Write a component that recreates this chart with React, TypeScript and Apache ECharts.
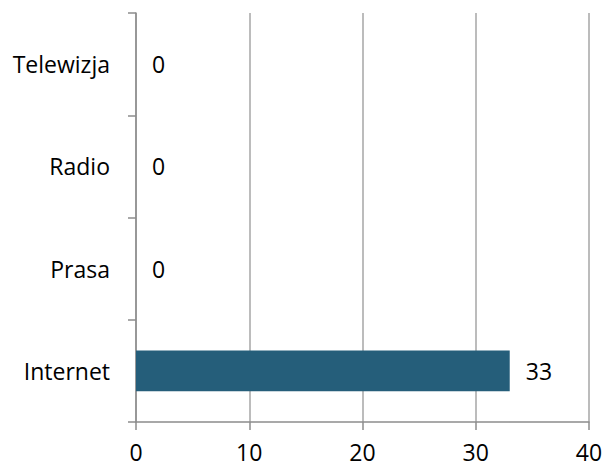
import React, { useEffect, useRef } from "react";
import * as echarts from "echarts";

const categories = ["Internet", "Prasa", "Radio", "Telewizja"];
const values = [33, 0, 0, 0];
const xTicks = [0, 10, 20, 30, 40];

export default function App() {
  const ref = useRef<HTMLDivElement>(null);
  useEffect(() => {
    const chart = echarts.init(ref.current!, null, { renderer: "svg" });
    const font = "'Open Sans', 'Liberation Sans', sans-serif";
    chart.setOption({
      animation: false,
      grid: { left: 136, right: 17, top: 13, bottom: 47, containLabel: false },
      xAxis: {
        type: "value",
        min: xTicks[0],
        max: xTicks[xTicks.length - 1],
        interval: 10,
        axisLine: { show: true, lineStyle: { color: "#8c8c8c", width: 1.5 } },
        axisTick: { show: true, length: 8, lineStyle: { color: "#8c8c8c", width: 1.5 } },
        splitLine: { show: true, lineStyle: { color: "#a6a6a6", width: 1.5 } },
        axisLabel: { color: "#000", fontSize: 23, fontFamily: font, margin: 18 },
      },
      yAxis: {
        type: "category",
        data: categories,
        axisLine: { show: true, lineStyle: { color: "#8c8c8c", width: 1.5 } },
        axisTick: { show: true, length: 8, alignWithLabel: false, lineStyle: { color: "#8c8c8c", width: 1.5 } },
        axisLabel: { color: "#000", fontSize: 23, fontFamily: font, margin: 26 },
      },
      series: [
        {
          type: "bar",
          data: values,
          barCategoryGap: "60%",
          itemStyle: { color: "#255E7A" },
          label: {
            show: true,
            position: "right",
            distance: 16,
            color: "#000",
            fontSize: 23,
            fontFamily: font,
          },
        },
      ],
    });
    return () => chart.dispose();
  }, []);
  return <div ref={ref} style={{ width: 606, height: 469, position: "absolute", left: 0, top: 0 }} />;
}
